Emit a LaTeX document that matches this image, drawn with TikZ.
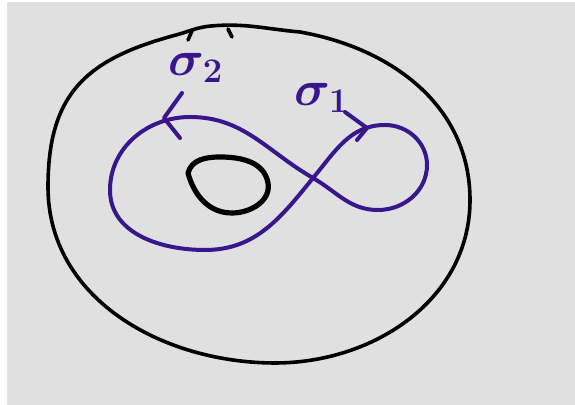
\documentclass[tikz,border=0pt]{standalone}
\usepackage{amsmath}
\usepackage{bm}
\usepackage{tikz}
\usetikzlibrary{positioning}

\definecolor{paper}{RGB}{224,224,224}
\definecolor{ink}{RGB}{58,22,140}

\begin{document}
\begin{tikzpicture}[
    x=0.5pt, y=0.5pt,
    rim/.style={
        draw=black,
        line width=1.8pt,
        line cap=round,
        line join=round
    },
    hole/.style={
        draw=black,
        line width=2.6pt,
        line cap=round
    },
    loopline/.style={
        draw=ink,
        line width=2pt,
        line cap=round,
        line join=round
    },
    lbl/.style={
        text=ink,
        font=\fontsize{26}{26}\selectfont
    }
]

% page and paper
\fill[white] (0,0) rectangle (575,405);
\fill[paper] (7,0) rectangle (575,403);
\useasboundingbox (0,0) rectangle (575,405);

% outer boundary
\draw[rim] (176,370) to[out=15,in=185] (211,379)
    to[out=5,in=175] (300,373)
    to[out=-10,in=90] (470,205)
    to[out=-90,in=0] (275,42)
    to[out=180,in=-90] (48,218)
    to[out=90,in=195,looseness=1.2] (176,370);
\draw[rim] (192,374) -- (188,365);
\draw[rim] (228,376) -- (232,368);

% inner hole
\draw[hole] (188,232) to[out=75,in=180] (220,248)
    to[out=0,in=100] (268,222)
    to[out=-80,in=0] (232,192)
    to[out=180,in=-75] (188,232);

% figure eight
\draw[loopline] (313,227) to[out=50,in=180] (385,280)
    to[out=0,in=90] (427,240)
    to[out=-90,in=0] (378,195)
    to[out=180,in=-30] (313,227)
    to[out=150,in=0] (190,288)
    to[out=180,in=90] (110,215)
    to[out=-90,in=180] (205,155)
    to[out=0,in=231] (313,227);

% arrows on the loops
\draw[loopline] (182,312) -- (164,287) -- (180,267);
\draw[loopline] (345,293) -- (367,277) -- (357,265);

% labels
\node[lbl] (s2) at (196,337) {$\bm{\sigma_2}$};
\node[lbl] (s1) at (322,307) {$\bm{\sigma_1}$};

\end{tikzpicture}
\end{document}
